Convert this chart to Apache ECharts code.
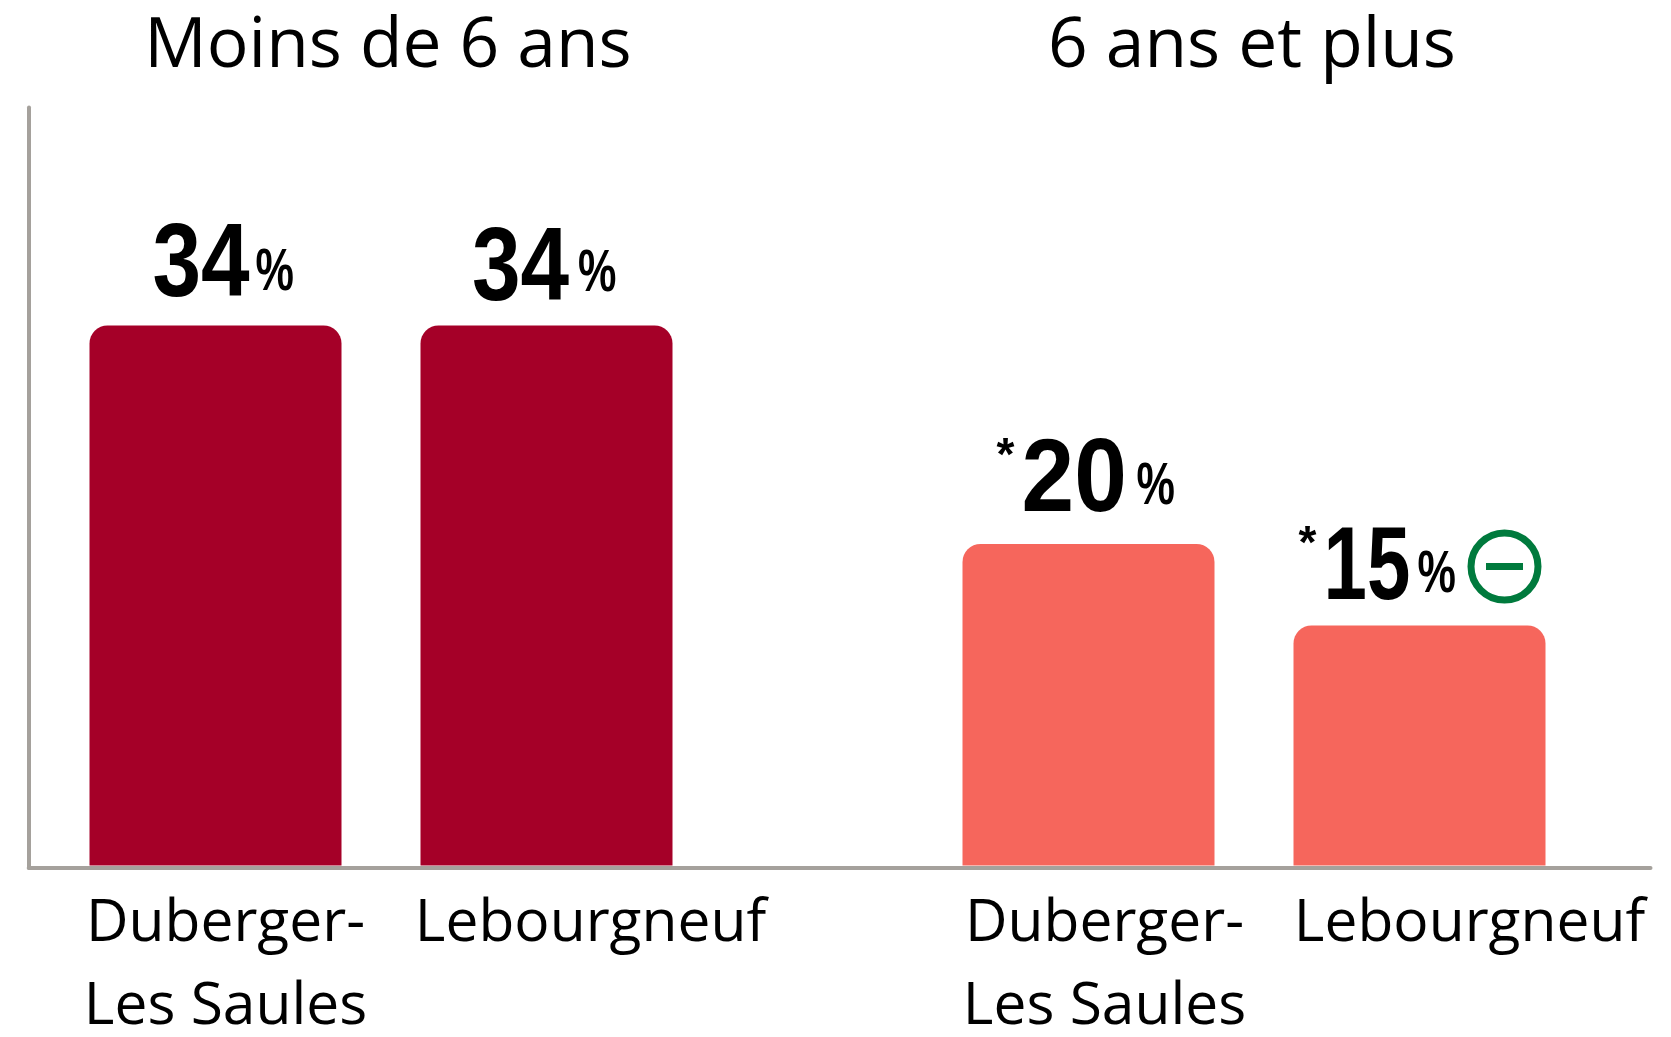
<!DOCTYPE html>
<html><head><meta charset="utf-8">
<style>html,body{margin:0;padding:0;background:#fff}#c{width:1671px;height:1037px}</style>
<script src="https://cdn.jsdelivr.net/npm/echarts@6/dist/echarts.min.js"></script>
</head><body><div id="c"></div>
<script>
const groupTitles = ['Moins de 6 ans', '6 ans et plus'];
const categories = ['Duberger-\nLes Saules', 'Lebourgneuf'];
const youngValues = [33.75, 33.75];
const olderValues = [20.1, 15];
const youngLabels = ['34', '34'];
const olderLabels = ['20', '15'];
const olderMarks = ['*', '*'];

const chart = echarts.init(document.getElementById('c'), null, {renderer:'canvas'});
const RED = '#A50028', CORAL = '#F6665C', GREEN = '#007A3D', GREY = '#A5A19C';
const BLACK = '#000';
const font = 'Open Sans';
const numFont = '"Liberation Sans"';

// offsets of each value label from its bar's top-centre point
const youngPlace = [
  {dx:-63,dy:-28,pct:103,pctDy:-5,sx:0.84},
  {dx:-74.5,dy:-24,pct:106,pctDy:-8,sx:0.84}
];
const olderPlace = [
  {dx:-67,dy:-31.5,pct:115,pctDy:-6,star:-25,sx:0.91},
  {dx:-96,dy:-25.5,pct:94,pctDy:-6,star:-25,sx:0.75}
];
const txt = (text,x,y,size,sx)=>({
  type:'text',x,y,scaleX:sx,silent:true,
  style:{text,x:0,y:0,fill:BLACK,align:'left',verticalAlign:'top',
    font:'bold '+size+'px '+numFont}
});
function labels(idx,vals,texts,place,marks){
  return {
    type:'custom',xAxisIndex:idx,yAxisIndex:idx,silent:true,z:5,
    data:vals.map((v,i)=>[i,v]),
    encode:{x:0,y:1},
    renderItem:(params,api)=>{
      const i=params.dataIndex, p=place[i];
      const c=api.coord([api.value(0),api.value(1)]);
      const lx=c[0]+p.dx, by=c[1]+p.dy;
      const children=[
        txt(texts[i],lx,by-82,104,p.sx),
        txt('%',lx+p.pct,by+p.pctDy-49,60,0.72)
      ];
      if(marks&&marks[i]) children.push(txt(marks[i],lx+p.star,by-78,46,1));
      return {type:'group',children};
    }
  };
}
const bar = (idx,vals,color)=>({
  type:'bar',xAxisIndex:idx,yAxisIndex:idx,barWidth:252,silent:true,
  data:vals,
  itemStyle:{color,borderRadius:[18,18,0,0]}
});
const xCat = (gi,shifts)=>({
  type:'category',gridIndex:gi,data:categories,
  axisLine:{show:false},axisTick:{show:false},
  axisLabel:{interval:0,margin:17,hideOverlap:false,
    formatter:(v,i)=>v.split('\n').map(s=>'{t'+i+'|'+s+'}').join('\n'),
    rich:{
      t0:{fontFamily:font,fontSize:58.7,lineHeight:83,color:BLACK,padding:[0,0,0,shifts[0]]},
      t1:{fontFamily:font,fontSize:58.7,lineHeight:83,color:BLACK,padding:[0,0,0,shifts[1]]}
    }}
});
const yHidden = gi=>({type:'value',gridIndex:gi,min:0,max:47.5,show:false});
const lineAxis = gi=>({type:'value',gridIndex:gi,min:0,max:1,splitLine:{show:false},axisTick:{show:false},axisLabel:{show:false},
     axisLine:{show:true,onZero:false,lineStyle:{color:GREY,width:4}}});
chart.setOption({
  animation:false,
  backgroundColor:'#fff',
  title:[
    {text:groupTitles[0],left:383,top:42,textAlign:'center',textVerticalAlign:'middle',textStyle:{fontFamily:font,fontWeight:'normal',fontSize:69.5,color:BLACK}},
    {text:groupTitles[1],left:1247,top:42,textAlign:'center',textVerticalAlign:'middle',textStyle:{fontFamily:font,fontWeight:'normal',fontSize:69.5,color:BLACK}}
  ],
  grid:[
    {left:50,width:662,top:105.5,height:760,outerBoundsMode:'none'},
    {left:923,width:662,top:105.5,height:760,outerBoundsMode:'none'},
    {left:28.7,right:20.5,top:107.5,height:760.3,outerBoundsMode:'none'}
  ],
  xAxis:[xCat(0,[20,88]),xCat(1,[32,100]),lineAxis(2)],
  yAxis:[yHidden(0),yHidden(1),lineAxis(2)],
  series:[
    bar(0,youngValues,RED),
    bar(1,olderValues,CORAL),
    labels(0,youngValues,youngLabels,youngPlace),
    labels(1,olderValues,olderLabels,olderPlace,olderMarks),
    {type:'scatter',xAxisIndex:1,yAxisIndex:1,silent:true,symbol:'circle',symbolSize:67,symbolOffset:[85,-59],
     data:[[categories[1],olderValues[1]]],
     itemStyle:{color:'#fff',borderColor:GREEN,borderWidth:7,opacity:1}},
    {type:'scatter',xAxisIndex:1,yAxisIndex:1,silent:true,symbol:'rect',symbolSize:[37,7],symbolOffset:[85,-59],
     data:[[categories[1],olderValues[1]]],
     itemStyle:{color:GREEN,opacity:1},z:3}
  ]
});
</script></body></html>
